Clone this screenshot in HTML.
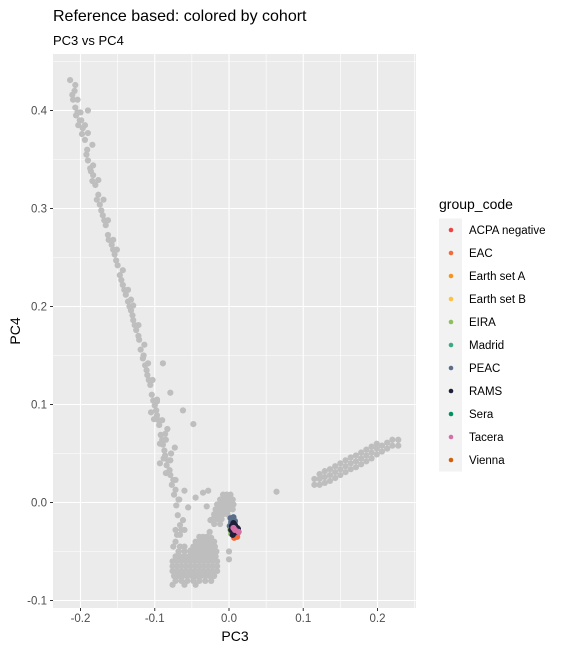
<!DOCTYPE html>
<html><head><meta charset="utf-8"><style>
body{margin:0;background:#fff;font-family:"Liberation Sans",Arial,sans-serif}
svg text{font-family:"Liberation Sans",Arial,sans-serif}
</style></head><body>
<svg id="chart" width="564" height="654" viewBox="0 0 564 654" xmlns="http://www.w3.org/2000/svg">
<rect width="564" height="654" fill="#fff"/>
<text x="53" y="21" font-size="16" fill="#000">Reference based: colored by cohort</text>
<text x="53" y="45" font-size="13" fill="#000">PC3 vs PC4</text>
<rect x="53" y="54" width="363" height="554" fill="#ebebeb"/>
<g id="grid"></g><g id="axes"></g><g id="points"></g>
<text x="235" y="641" font-size="14" text-anchor="middle" fill="#000">PC3</text>
<text transform="translate(20,331) rotate(-90)" font-size="14" text-anchor="middle" fill="#000">PC4</text>
<g id="legend"></g>
</svg>
<script>
const xTicks=[-0.2,-0.1,0.0,0.1,0.2];
const xTickLabels=["-0.2","-0.1","0.0","0.1","0.2"];
const yTicks=[0.4,0.3,0.2,0.1,0.0,-0.1];
const yTickLabels=["0.4","0.3","0.2","0.1","0.0","-0.1"];
const xMinor=[-0.25,-0.15,-0.05,0.05,0.15,0.25];
const yMinor=[0.45,0.35,0.25,0.15,0.05,-0.05];
const groupNames=["ACPA negative","EAC","Earth set A","Earth set B","EIRA","Madrid","PEAC","RAMS","Sera","Tacera","Vienna"];
const groupColors=["#EE4444","#F26B38","#F7941D","#FDC340","#8DBF5E","#3AAA86","#5A6E8A","#1F1F3A","#009160","#D46FA8","#D45F0A"];
// grey reference points: arm
const armX=[-0.214,-0.211,-0.210,-0.207,-0.206,-0.201,-0.203,-0.197,-0.194,-0.191,-0.190,-0.187,-0.183,-0.180,-0.176,-0.174,-0.170,-0.166,-0.163,-0.158,-0.154,-0.150,-0.147,-0.143,-0.139,-0.136,-0.132,-0.129,-0.125,-0.121,-0.119,-0.116,-0.113,-0.110,-0.106,-0.104,-0.100,-0.097,-0.094,-0.092,-0.089,-0.086,-0.084,-0.079,-0.077,-0.074,-0.071,-0.069,-0.066,
-0.208,-0.204,-0.198,-0.192,-0.186,-0.184,-0.178,-0.172,-0.168,-0.162,-0.156,-0.152,-0.145,-0.141,-0.134,-0.130,-0.127,-0.122,-0.115,-0.111,-0.108,-0.102,-0.098,-0.095,-0.090,-0.087,-0.082,-0.080,-0.075,-0.072,-0.068,-0.078,-0.086,-0.093,-0.083,
-0.190,-0.132,-0.089,-0.079,-0.048,-0.062,-0.073,-0.105,-0.097,-0.101,-0.088,
-0.207,-0.204,-0.200,-0.199,-0.194,-0.190,-0.184,-0.183,-0.176,-0.169,-0.163,-0.156,-0.151,-0.143,-0.136,-0.129,-0.122,-0.114,-0.109,-0.103,-0.097,-0.090,-0.085,-0.079,-0.072,-0.067,-0.062,-0.085,-0.093,-0.060];
const armY=[0.431,0.416,0.411,0.403,0.395,0.390,0.385,0.382,0.370,0.360,0.349,0.341,0.334,0.324,0.314,0.304,0.293,0.283,0.273,0.263,0.253,0.242,0.232,0.222,0.212,0.205,0.196,0.186,0.176,0.166,0.156,0.147,0.140,0.130,0.120,0.110,0.099,0.089,0.079,0.069,0.059,0.048,0.038,0.028,0.018,0.008,-0.003,-0.013,-0.023,
0.420,0.398,0.376,0.355,0.338,0.328,0.309,0.298,0.288,0.268,0.258,0.247,0.227,0.217,0.200,0.191,0.181,0.170,0.150,0.135,0.125,0.104,0.094,0.084,0.064,0.053,0.043,0.033,0.023,0.013,0.003,0.050,0.070,0.060,0.075,
0.400,0.207,0.142,0.112,0.080,0.094,0.056,0.092,0.103,0.085,0.045,
0.426,0.411,0.398,0.390,0.385,0.377,0.365,0.344,0.329,0.309,0.288,0.268,0.258,0.237,0.217,0.201,0.181,0.161,0.142,0.125,0.105,0.084,0.064,0.043,0.023,0.003,-0.018,0.030,0.040,-0.028];
// bottom blob rows
const blobRowY=[-0.035,-0.040,-0.045,-0.050,-0.055,-0.060,-0.065,-0.070,-0.075,-0.080,-0.084,-0.028,-0.033];
const blobRowX=[[-0.040,-0.035,-0.030],[-0.045,-0.040,-0.034,-0.028,-0.022,-0.072],[-0.060,-0.048,-0.042,-0.036,-0.030,-0.024,-0.019,-0.075,-0.066],[-0.068,-0.060,-0.052,-0.046,-0.040,-0.034,-0.028,-0.022,-0.017],[-0.072,-0.066,-0.060,-0.054,-0.048,-0.042,-0.036,-0.030,-0.024,-0.018],[-0.076,-0.070,-0.064,-0.058,-0.052,-0.046,-0.040,-0.034,-0.028,-0.022,-0.016],[-0.076,-0.070,-0.064,-0.058,-0.052,-0.046,-0.040,-0.034,-0.028,-0.022,-0.016],[-0.076,-0.070,-0.064,-0.058,-0.052,-0.046,-0.040,-0.034,-0.028,-0.022,-0.016],[-0.074,-0.068,-0.062,-0.056,-0.050,-0.044,-0.038,-0.032,-0.026,-0.020],[-0.072,-0.064,-0.056,-0.048,-0.040,-0.032,-0.024],[-0.076,-0.060,-0.045],[-0.072,-0.064],[-0.066,-0.070]];
// cluster near origin rows
const zeroRowY=[0.008,0.003,-0.002,-0.007,-0.012,-0.017,-0.022];
const zeroRowX=[[-0.008,-0.003,0.002],[-0.012,-0.006,0.000,0.005],[-0.016,-0.010,-0.004,0.002,0.006],[-0.018,-0.012,-0.006,0.000,0.005],[-0.020,-0.014,-0.008,-0.002],[-0.022,-0.016,-0.010],[-0.020,-0.012]];
const scatterX=[-0.028,-0.030,-0.025,-0.026,-0.024,-0.028,-0.020,0.000,0.000,-0.016,-0.035,-0.045,-0.055,-0.060,0.064,-0.052,-0.060];
const scatterY=[0.012,-0.004,-0.018,-0.030,-0.036,-0.040,-0.040,-0.050,-0.058,-0.008,0.010,0.005,-0.005,0.012,0.011,-0.049,-0.050];
// right band columns
const bandColX=[0.115,0.122,0.129,0.136,0.143,0.150,0.157,0.164,0.171,0.178,0.185,0.192,0.199,0.206,0.213,0.220,0.228];
const bandColY=[[0.018,0.024],[0.018,0.024,0.029],[0.020,0.026,0.032],[0.022,0.028,0.034],[0.025,0.031,0.037],[0.028,0.034,0.040],[0.031,0.037,0.043],[0.034,0.040,0.046],[0.036,0.042,0.048],[0.039,0.045,0.051],[0.042,0.048,0.054],[0.045,0.051,0.057],[0.049,0.055,0.060],[0.052,0.058],[0.055,0.061],[0.058,0.064],[0.064,0.058]];
// cohort points
const peacX=[0.002,0.006,0.003,0.008,0.001,0.005], peacY=[-0.016,-0.015,-0.020,-0.019,-0.024,-0.023];
const eiraX=[0.003,0.008,0.012,0.002], eiraY=[-0.032,-0.034,-0.031,-0.028];
const eacX=[0.007,0.011], eacY=[-0.036,-0.035];
const ramsX=[0.004,0.008,0.011,0.003,0.007,0.010,0.005,0.012,0.006], ramsY=[-0.024,-0.023,-0.026,-0.028,-0.031,-0.030,-0.033,-0.027,-0.021];
const taceraX=[0.006,0.008,0.013], taceraY=[-0.026,-0.028,-0.030];

const NS="http://www.w3.org/2000/svg";
const X=v=>229+v*742.5, Y=v=>502.5-v*980;
function mk(tag,attrs,parent){const e=document.createElementNS(NS,tag);for(const k in attrs)e.setAttribute(k,attrs[k]);parent.appendChild(e);return e;}
const grid=document.getElementById('grid'),axes=document.getElementById('axes'),pts=document.getElementById('points'),leg=document.getElementById('legend');
xMinor.forEach(v=>{const l=mk('line',{x1:X(v),x2:X(v),y1:54,y2:608,stroke:'#fff','stroke-width':0.6},grid);

});
yMinor.forEach(v=>{const l=mk('line',{x1:53,x2:416,y1:Y(v),y2:Y(v),stroke:'#fff','stroke-width':0.6},grid);

});
xTicks.forEach((v,i)=>{const l=mk('line',{x1:X(v),x2:X(v),y1:54,y2:608,stroke:'#fff','stroke-width':1.1},grid);


mk('line',{x1:X(v),x2:X(v),y1:608,y2:611,stroke:'#333','stroke-width':1},axes);
const t=mk('text',{x:X(v),y:622,'font-size':11.5,'text-anchor':'middle',fill:'#4d4d4d'},axes);t.textContent=xTickLabels[i];

});
yTicks.forEach((v,i)=>{const l=mk('line',{x1:53,x2:416,y1:Y(v),y2:Y(v),stroke:'#fff','stroke-width':1.1},grid);


mk('line',{x1:50,x2:53,y1:Y(v),y2:Y(v),stroke:'#333','stroke-width':1},axes);
const t=mk('text',{x:47,y:Y(v)+4,'font-size':11.5,'text-anchor':'end',fill:'#4d4d4d'},axes);t.textContent=yTickLabels[i];

});
function dot(x,y,c,name){const d=mk('circle',{cx:X(x),cy:Y(y),r:3.1,fill:c},pts);

}
const G='#bebebe';
armX.forEach((x,i)=>dot(x,armY[i],G,'reference-point'));
blobRowY.forEach((y,i)=>blobRowX[i].forEach(x=>dot(x,y,G,'reference-point')));
zeroRowY.forEach((y,i)=>zeroRowX[i].forEach(x=>dot(x,y,G,'reference-point')));
scatterX.forEach((x,i)=>dot(x,scatterY[i],G,'reference-point'));
bandColX.forEach((x,i)=>bandColY[i].forEach(y=>dot(x,y,G,'reference-point')));
peacX.forEach((x,i)=>dot(x,peacY[i],groupColors[6],'peac-point'));
eiraX.forEach((x,i)=>dot(x,eiraY[i],groupColors[4],'eira-point'));
eacX.forEach((x,i)=>dot(x,eacY[i],groupColors[1],'eac-point'));
ramsX.forEach((x,i)=>dot(x,ramsY[i],groupColors[7],'rams-point'));
taceraX.forEach((x,i)=>dot(x,taceraY[i],groupColors[9],'tacera-point'));
const lt=mk('text',{x:439,y:209,'font-size':14,fill:'#000'},leg);lt.textContent='group_code';


groupNames.forEach((n,i)=>{const y=230+i*23;
const k=mk('rect',{x:439,y:y-11.5,width:23,height:23,fill:'#f2f2f2'},leg);


mk('circle',{cx:451,cy:y,r:2.3,fill:groupColors[i]},leg);
const t=mk('text',{x:469,y:y+4,'font-size':11.5,fill:'#000'},leg);t.textContent=n;

});
</script>
</body></html>
